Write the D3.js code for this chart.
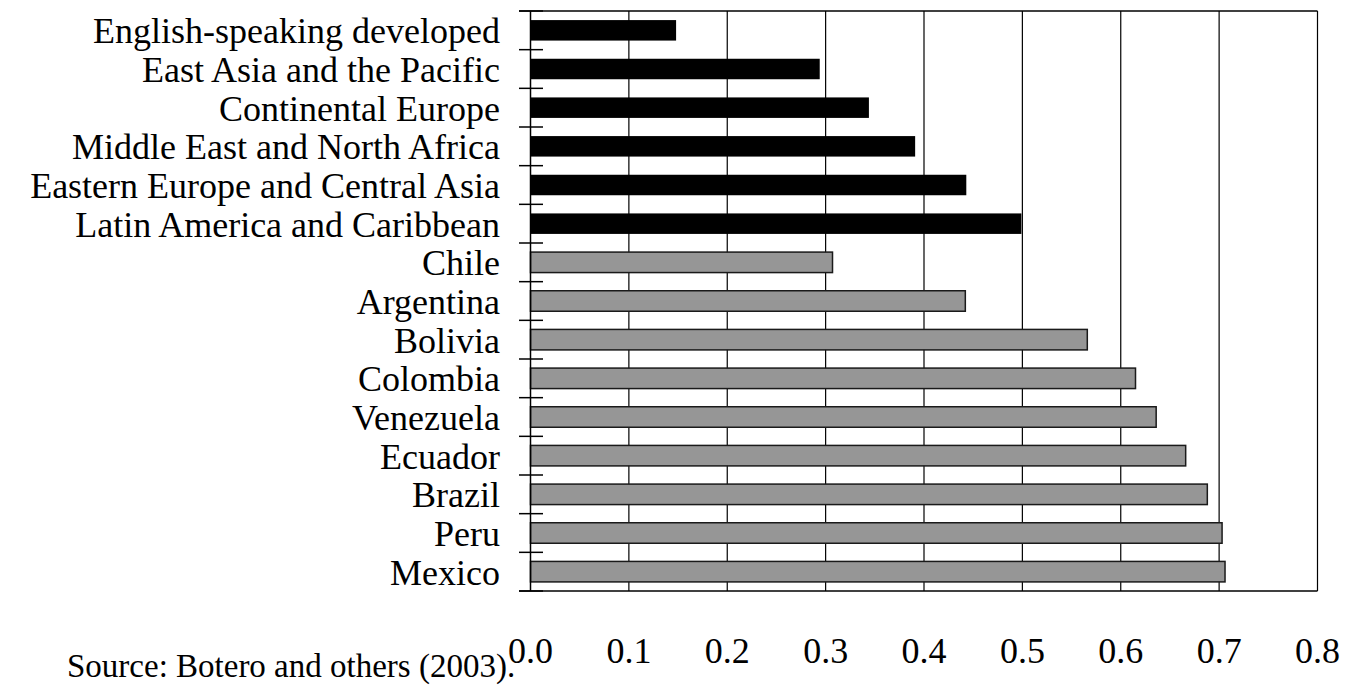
<!DOCTYPE html>
<html>
<head>
<meta charset="utf-8">
<script src="https://cdn.jsdelivr.net/npm/d3@7"></script>
<style>
  body { margin: 0; background: #fff; }
  text { font-family: "Liberation Serif", "Times New Roman", serif; fill: #000; }
</style>
</head>
<body>
<div id="chart"></div>
<script>
// regional averages first (black), then Latin American countries (gray)
const regions = [
    "English-speaking developed",
    "East Asia and the Pacific",
    "Continental Europe",
    "Middle East and North Africa",
    "Eastern Europe and Central Asia",
    "Latin America and Caribbean"
];
const regionValues = [0.148, 0.294, 0.344, 0.391, 0.443, 0.499];

const countries = ["Chile", "Argentina", "Bolivia", "Colombia", "Venezuela", "Ecuador", "Brazil", "Peru", "Mexico"];
const countryValues = [0.307, 0.442, 0.566, 0.615, 0.636, 0.666, 0.688, 0.703, 0.706];

const xTicks = [0, 0.1, 0.2, 0.3, 0.4, 0.5, 0.6, 0.7, 0.8];
const sourceNote = "Source: Botero and others (2003).";

const width = 1345;
const height = 686;

const rows = regions.map((name, i) => ({ name, value: regionValues[i], group: "region" }))
    .concat(countries.map((name, i) => ({ name, value: countryValues[i], group: "country" })));

const svg = d3.select("#chart")
    .append("svg")
    .attr("width", width)
    .attr("height", height);

const plotTop = 11, plotBottom = 591;

const x = d3.scaleLinear()
    .domain([0, 0.8])
    .range([530.5, 1317.5]);

const y = d3.scaleBand()
    .domain(rows.map(d => d.name))
    .range([plotTop, plotBottom])
    .paddingInner(0.47)
    .paddingOuter(0.235);

const step = y.step();

// vertical gridlines
svg.append("g")
    .selectAll("line")
    .data(xTicks.slice(1))
    .enter().append("line")
    .attr("x1", d => x(d)).attr("x2", d => x(d))
    .attr("y1", plotTop).attr("y2", plotBottom)
    .attr("stroke", "#000")
    .attr("stroke-width", 1.2);

// top and bottom frame lines
svg.append("g")
    .selectAll("line")
    .data([plotTop, plotBottom])
    .enter().append("line")
    .attr("x1", 519).attr("x2", x(0.8))
    .attr("y1", d => d).attr("y2", d => d)
    .attr("stroke", "#000")
    .attr("stroke-width", 1.5);

// bars
svg.append("g")
    .selectAll("rect")
    .data(rows)
    .enter().append("rect")
    .attr("x", x(0))
    .attr("y", d => y(d.name))
    .attr("width", d => x(d.value) - x(0))
    .attr("height", y.bandwidth())
    .attr("fill", d => d.group === "region" ? "#000" : "#969696")
    .attr("stroke", d => d.group === "region" ? "none" : "#1a1a1a")
    .attr("stroke-width", 1.5);

// left axis line
svg.append("line")
    .attr("x1", x(0)).attr("x2", x(0))
    .attr("y1", plotTop).attr("y2", plotBottom)
    .attr("stroke", "#000")
    .attr("stroke-width", 1.5);

// category boundary ticks
svg.append("g")
    .selectAll("line")
    .data(d3.range(rows.length + 1))
    .enter().append("line")
    .attr("x1", 519).attr("x2", 543)
    .attr("y1", i => plotTop + i * step).attr("y2", i => plotTop + i * step)
    .attr("stroke", "#000")
    .attr("stroke-width", 1.5);

// category labels
svg.append("g")
    .selectAll("text")
    .data(rows)
    .enter().append("text")
    .attr("x", 500)
    .attr("y", d => y(d.name) + y.bandwidth() / 2)
    .attr("dy", "0.36em")
    .attr("text-anchor", "end")
    .style("font-size", "36px")
    .text(d => d.name);

// x tick labels
svg.append("g")
    .selectAll("text")
    .data(xTicks)
    .enter().append("text")
    .attr("x", d => x(d))
    .attr("y", 663)
    .attr("text-anchor", "middle")
    .style("font-size", "36px")
    .text(d => d3.format(".1f")(d));

svg.append("text")
    .attr("x", 67)
    .attr("y", 677)
    .style("font-size", "33px")
    .text(sourceNote);
</script>
</body>
</html>
